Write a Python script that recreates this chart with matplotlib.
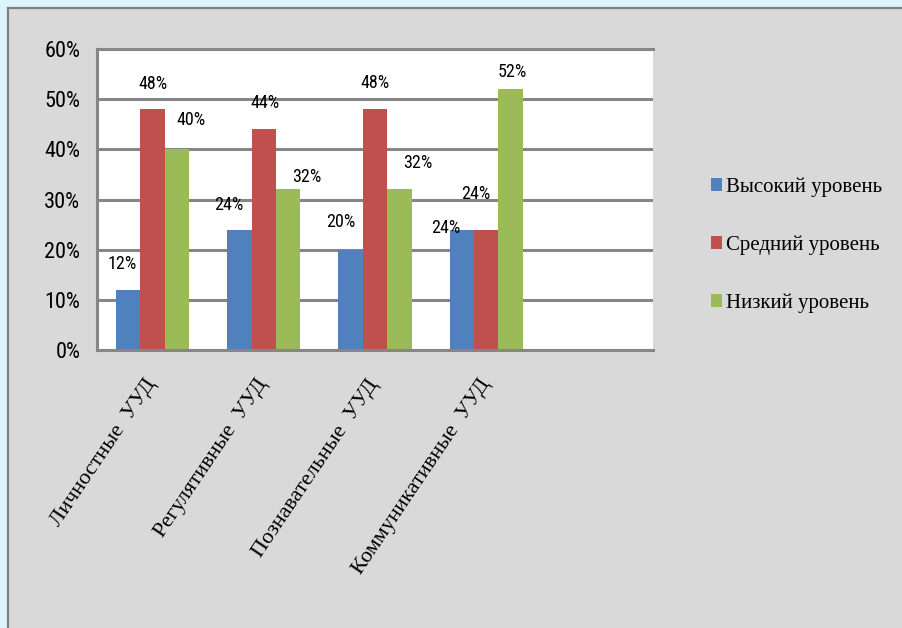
import numpy as np
import matplotlib
matplotlib.use("Agg")
import matplotlib.pyplot as plt
from matplotlib import font_manager as fm
from matplotlib.patches import Rectangle
from matplotlib.transforms import blended_transform_factory, ScaledTranslation

# data
categories = ["Личностные  УУД", "Регулятивные  УУД", "Познавательные  УУД", "Коммуникативные  УУД"]
series = ["Высокий уровень", "Средний уровень", "Низкий уровень"]
high = [12, 24, 20, 24]
mid = [48, 44, 48, 24]
low = [40, 32, 32, 52]
y_ticks = [0, 10, 20, 30, 40, 50, 60]

colors = ["#4f81bd", "#c0504d", "#9bbb59"]

# hand placed data labels (pixel offsets from bar top centre), as in the original
label_dx = [[-6, -11, -10, -16], [0, 1, 0, -10], [14, 18, 18, 2]]
label_dy = [[26, 25, 28, 2], [25, 26, 26, 36], [29, 12, 26, 17]]


def pick_narrow():
    # the original uses a narrow sans; take the first condensed face we have
    fonts = fm.fontManager.ttflist
    names = {f.name for f in fonts}
    for n in ["Liberation Sans Narrow", "Roboto Condensed", "Open Sans Condensed",
              "Noto Sans Condensed"]:
        if n in names:
            return {"family": n}
    for n in ["Roboto", "Noto Sans", "Open Sans", "DejaVu Sans"]:
        if any(f.name == n and f.stretch in ("condensed", "semi-condensed", "extra-condensed")
               for f in fonts):
            return {"family": n, "stretch": "condensed"}
    return {"family": "Liberation Sans"}


sans = pick_narrow()
serif = "Liberation Serif"

fig = plt.figure(figsize=(9.02, 6.28), dpi=100, facecolor="#ddf4fa")

# grey panel behind the chart
panel = Rectangle((8 / 902, -0.05), 1.0, 1 - 8 / 628 + 0.05, transform=fig.transFigure,
                  facecolor="#d9d9d9", edgecolor="#808080", linewidth=1.6, zorder=-10)
fig.patches.append(panel)

ax = fig.add_axes([97 / 902, 1 - 350 / 628, 556 / 902, 301 / 628])
ax.set_facecolor("white")

x = np.arange(len(categories))
w = 0.22
values = [high, mid, low]
bars = []
for i, (vals, name, col) in enumerate(zip(values, series, colors)):
    b = ax.bar(x + (i - 1) * w, vals, width=w, color=col, label=name, zorder=2)
    bars.append(b)
    for j, v in enumerate(vals):
        ax.annotate(f"{v}%", (x[j] + (i - 1) * w, v), xytext=(label_dx[i][j], label_dy[i][j]),
                    textcoords="offset pixels", ha="center", va="center",
                    fontsize=13, color="black", zorder=3, **sans)

ax.set_xlim(-0.5, 4.5)
ax.set_ylim(0, 60)
ax.set_yticks(y_ticks)
ax.set_yticklabels([f"{t}%" for t in y_ticks], fontsize=16, **sans)
ax.set_xticks([])
ax.tick_params(axis="y", length=0, pad=12)
ax.set_axisbelow(True)
ax.yaxis.grid(True, color="#868686", linewidth=2.2)

for s in ["left", "bottom", "top"]:
    ax.spines[s].set_color("#868686")
    ax.spines[s].set_linewidth(2.2)
ax.spines["right"].set_visible(False)

# rotated category labels
trans = blended_transform_factory(ax.transData, ax.transAxes)
for j, cat in enumerate(categories):
    t = trans + ScaledTranslation(0 / 100, -31 / 100, fig.dpi_scale_trans)
    ax.text(x[j], 0, cat, transform=t, rotation=56, rotation_mode="anchor",
            ha="right", va="center", fontfamily=serif, fontsize=16, color="black")

fig.legend(handles=bars, labels=series, loc="center left",
           bbox_to_anchor=(711 / 902, 1 - 245 / 628), frameon=False,
           prop={"family": serif, "size": 15}, handlelength=0.55, handleheight=0.55,
           handletextpad=0.15, labelspacing=1.85, borderpad=0, borderaxespad=0)

fig.savefig("out.png", dpi=100, facecolor=fig.get_facecolor())
